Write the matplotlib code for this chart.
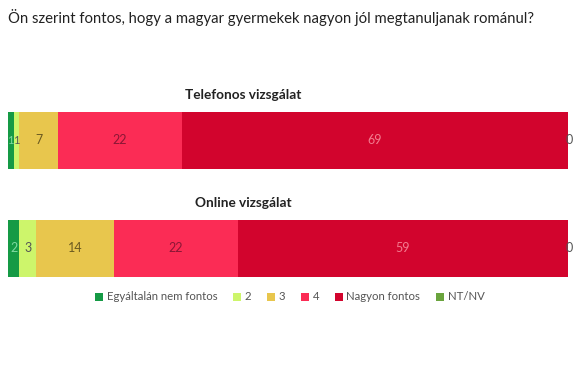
import matplotlib.pyplot as plt
import numpy as np

plt.rcParams['font.family'] = ['Lato', 'DejaVu Sans']

# adatok
categories = ['Egyáltalán nem fontos', '2', '3', '4', 'Nagyon fontos', 'NT/NV']
colors = ['#159a45', '#cdf56b', '#e8c64d', '#fb2c55', '#d2042d', '#6aa43d']
label_colors = ['#7fd9a0', '#555555', '#6b5a20', '#8a1635', '#f37b8e', '#555555']
groups = ['Telefonos vizsgálat', 'Online vizsgálat']
telefonos = [1, 1, 7, 22, 69, 0]
online = [2, 3, 14, 22, 59, 0]
values = [telefonos, online]

fig = plt.figure(figsize=(5.75, 3.87), dpi=100)
ax = fig.add_axes([8 / 575, 0, 560 / 575, 1])
ax.set_xlim(0, 100)
ax.set_ylim(387, 0)
ax.axis('off')

y_centers = [140.5, 248]
bar_h = 57

handles = []
for g, (vals, yc) in enumerate(zip(values, y_centers)):
    left = 0
    for i, v in enumerate(vals):
        b = ax.barh(yc, v, left=left, height=bar_h, color=colors[i], linewidth=0)
        if g == 0:
            handles.append(b)
        xt = left + v / 2
        fs = 9
        if v == 0:
            xt = left + 0.3
        if v == 1:
            fs = 8  # keskeny szegmens
        ax.text(xt, yc, str(v), ha='center', va='center', fontsize=fs,
                color=label_colors[i], clip_on=False)
        left += v

fig.text(8 / 575, 1 - 18 / 387, 'Ön szerint fontos, hogy a magyar gyermekek nagyon jól megtanuljanak románul?',
         ha='left', va='center', fontsize=10.7, color='#222222')
fig.text(243 / 575, 1 - 95 / 387, groups[0], ha='center', va='center',
         fontsize=9.8, fontweight='bold', color='#222222')
fig.text(243 / 575, 1 - 203 / 387, groups[1], ha='center', va='center',
         fontsize=9.8, fontweight='bold', color='#222222')

fig.legend(handles, categories, loc='center', bbox_to_anchor=(290 / 575, 1 - 297 / 387),
           ncol=6, frameon=False, fontsize=8.2, handlelength=0.7, handleheight=0.7,
           handletextpad=0.3, columnspacing=1.4, labelcolor='#555555')

fig.savefig('out.png', dpi=100)
